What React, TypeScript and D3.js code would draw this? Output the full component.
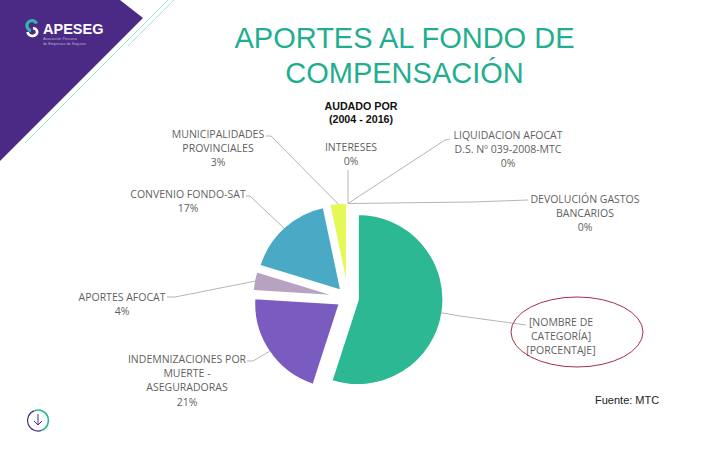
import React from "react";
import * as d3 from "d3";

const categories = ["[NOMBRE DE CATEGORÍA]", "INDEMNIZACIONES POR MUERTE - ASEGURADORAS", "APORTES AFOCAT", "CONVENIO FONDO-SAT", "MUNICIPALIDADES PROVINCIALES", "INTERESES", "LIQUIDACION AFOCAT D.S. Nº 039-2008-MTC", "DEVOLUCIÓN GASTOS BANCARIOS"];
const values = [55, 21, 3.7, 17, 3.3, 0, 0, 0];
const colors = ["#2bb893", "#7a5bc0", "#b8a2c2", "#4aaac6", "#e6f855", "#888", "#888", "#888"];
const labelLines = [
  ["[NOMBRE DE", "CATEGORÍA]", "[PORCENTAJE]"],
  ["INDEMNIZACIONES POR", "MUERTE -", "ASEGURADORAS", "21%"],
  ["APORTES AFOCAT", "4%"],
  ["CONVENIO FONDO-SAT", "17%"],
  ["MUNICIPALIDADES", "PROVINCIALES", "3%"],
  ["INTERESES", "0%"],
  ["LIQUIDACION AFOCAT", "D.S. Nº 039-2008-MTC", "0%"],
  ["DEVOLUCIÓN GASTOS", "BANCARIOS", "0%"],
];
const labelCenterX = [561, 187, 122, 188, 218, 351, 508, 585];
const labelFirstY = [322, 359, 297, 194, 134, 147, 135, 199];
const leaderStart = [[526, 325], [247, 361], [167, 297], [246, 196], [266, 136], [348, 170], [450, 139], [528, 200]];
const leaderMid = [[460, 316], [253, 361], [175, 297], [250, 196], [271, 136], [348, 175], [445, 140], [472, 202]];
const titleLines = ["APORTES AL FONDO DE", "COMPENSACIÓN"];
const subtitleLines = ["AUDADO POR", "(2004 - 2016)"];

const cx = 348, cy = 298, radius = 85.5, explode = 10;
const labelFont = "'Open Sans', sans-serif";

export default function App() {
  const pie = d3.pie<number>().sort(null).startAngle(0).endAngle(2 * Math.PI);
  const arcs = pie(values);
  const arc = d3.arc<d3.PieArcDatum<number>>().innerRadius(0).outerRadius(radius);
  const polar = (a: number, r: number): [number, number] => [cx + r * Math.sin(a), cy - r * Math.cos(a)];
  const line = d3.line();
  return (
    <svg width={720} height={450} style={{ position: "absolute", left: 0, top: 0, background: "#fff" }}>
      <defs>
        <clipPath id="sub"><rect x={300} y={95} width={98} height={40} /></clipPath>
      </defs>
      <polygon points="0,0 120,0 143,18 0,161" fill="#4a2a85" />
      <line x1={168} y1={0} x2={25} y2={143} stroke="#8fd6d2" strokeWidth={0.8} />
      <line x1={174} y1={0} x2={128} y2={46} stroke="#8fd6d2" strokeWidth={0.8} />
      <path d="M36.5,23.5 A5,5 0 1 0 31,30.5" fill="none" stroke="#35b3ad" strokeWidth={3.2} />
      <path d="M27.5,32 A5,5 0 0 0 36,34.5 A3.5,3.5 0 0 0 33,28.5" fill="none" stroke="#fff" strokeWidth={2.6} />
      <text x={43} y={34} fontFamily="'Liberation Sans', sans-serif" fontWeight="bold" fontSize={14.5} fill="#fff">APESEG</text>
      <text x={43} y={40} fontFamily="'Liberation Sans', sans-serif" fontSize={3.8} fill="#b9aed6">Asociación Peruana</text>
      <text x={43} y={45} fontFamily="'Liberation Sans', sans-serif" fontSize={3.8} fill="#b9aed6">de Empresas de Seguros</text>

      {titleLines.map((t, i) => (
        <text key={t} x={404.5} y={48 + i * 35} textAnchor="middle" fontFamily="'Liberation Sans', sans-serif" fontSize={29} fill="#1fae8f">{t}</text>
      ))}
      <g clipPath="url(#sub)">
        {subtitleLines.map((t, i) => (
          <text key={t} x={361} y={110 + i * 13} textAnchor="middle" fontFamily="'Liberation Sans', sans-serif" fontWeight="bold" fontSize={10.7} fill="#111">{t}</text>
        ))}
      </g>

      {arcs.map((d, i) => {
        const mid = (d.startAngle + d.endAngle) / 2;
        const [tx, ty] = polar(mid, explode);
        return d.value > 0 ? <path key={categories[i]} d={arc(d) ?? ""} transform={`translate(${tx},${ty})`} fill={colors[i]} stroke="#fff" strokeWidth={2} /> : null;
      })}

      {arcs.map((d, i) => {
        const mid = (d.startAngle + d.endAngle) / 2;
        const pts: [number, number][] = [leaderStart[i] as [number, number], leaderMid[i] as [number, number], polar(mid, radius + explode - 1)];
        return <path key={i} d={line(pts) ?? ""} fill="none" stroke="#b5b5b5" strokeWidth={1} />;
      })}

      {labelLines.map((lines, i) => (
        <text key={i} textAnchor="middle" fontFamily={labelFont} fontSize={10.5} fill="#5f5f5f">
          {lines.map((t, j) => (
            <tspan key={j} x={labelCenterX[i]} y={labelFirstY[i] + 3.5 + j * 14.4}>{t}</tspan>
          ))}
        </text>
      ))}

      <ellipse cx={577} cy={332} rx={66} ry={35} fill="none" stroke="#a62f45" strokeWidth={1} />
      <text x={595} y={404} fontFamily="'Liberation Sans', sans-serif" fontSize={11} fill="#222">Fuente: MTC</text>

      <path d="M38,431 A10.5,10.5 0 1 1 38,410" fill="none" stroke="#4a2a85" strokeWidth={1.2} transform="rotate(-20 38 420.5)" />
      <path d="M38,410 A10.5,10.5 0 0 1 38,431" fill="none" stroke="#2bb893" strokeWidth={1.6} transform="rotate(-20 38 420.5)" />
      <path d="M38,414 L38,425 M34,421 L38,425 L42,421" fill="none" stroke="#4a2a85" strokeWidth={1} />
    </svg>
  );
}
